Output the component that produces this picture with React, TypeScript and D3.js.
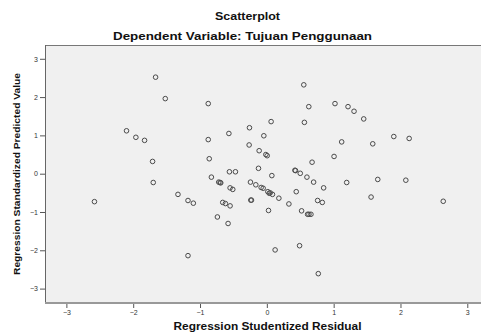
import { useRef, useEffect } from "react";
import * as d3 from "d3";

// Regression studentized residual (x) vs standardized predicted value (y)
const residuals = [
  -1.665, -1.52, -2.1, -1.96, -1.83, -1.71, -1.7, -2.58, -1.33, -1.18, -1.1, -1.18,
  0.553, -0.877, 0.628, 0.562, 0.064, -0.26, -0.568, -0.045, -0.877, -0.265, -0.115,
  -0.015, 0.005, -0.862, 0.677, -0.125, -0.56, -0.47, -0.83, 0.075, 0.42, 0.43, 0.5,
  0.6, 0.7, 0.85, -0.72, -0.69, -0.7, -0.55, -0.51, -0.245, -0.165, -0.085, -0.055,
  0.015, 0.05, 0.084, 0.18, -0.24, -0.23, 0.025, 0.33, 0.44, 0.52, 0.61, 0.63, 0.66,
  0.76, 0.83, -0.66, -0.62, -0.55, -0.74, -0.58, 0.124, 0.49, 0.77, 1.02, 1.215, 1.305,
  1.45, 1.12, 1.585, 1.9, 2.13, 1.006, 1.195, 1.66, 2.08, 1.56, 2.64, 0.035,
];
const predicted = [
  2.52, 1.96, 1.12, 0.95, 0.87, 0.32, -0.23, -0.73, -0.54, -0.7, -0.77, -2.14,
  2.32, 1.83, 1.75, 1.34, 1.36, 1.2, 1.05, 0.99, 0.89, 0.75, 0.6,
  0.5, 0.47, 0.39, 0.3, 0.14, 0.05, 0.05, -0.09, -0.05, 0.09, 0.08, 0.01,
  -0.09, -0.22, -0.37, -0.22, -0.24, -0.23, -0.37, -0.41, -0.22, -0.29, -0.36, -0.38,
  -0.47, -0.5, -0.54, -0.64, -0.69, -0.69, -0.96, -0.79, -0.47, -0.97, -1.06, -1.06, -1.06,
  -0.7, -0.75, -0.75, -0.78, -0.84, -1.13, -1.3, -1.99, -1.88, -2.61, 1.83, 1.75, 1.63,
  1.43, 0.83, 0.78, 0.97, 0.92, 0.45, -0.23, -0.15, -0.17, -0.61, -0.72, -0.51,
];
const xTicks = [-3, -2, -1, 0, 1, 2, 3];
const yTicks = [-3, -2, -1, 0, 1, 2, 3];

const title = "Scatterplot";
const subtitle = "Dependent Variable: Tujuan Penggunaan";
const xLabel = "Regression Studentized Residual";
const yLabel = "Regression Standardized Predicted Value";

const App = () => {
  const svgRef = useRef(null);

  useEffect(() => {
    const svg = d3.select(svgRef.current);
    svg.selectAll("*").remove();
    const width = 481;
    const height = 332;
    const plot = { left: 45, top: 45, right: 484, bottom: 302 };
    const font = "'Liberation Sans', Arial, sans-serif";

    const x = d3.scaleLinear().domain([-3.32, 3.25]).range([plot.left, plot.right]);
    const y = d3.scaleLinear().domain([-3.35, 3.36]).range([plot.bottom, plot.top]);

    svg.attr("width", width).attr("height", height).style("font-family", font);

    // plot background
    svg
      .append("rect")
      .attr("x", plot.left)
      .attr("y", plot.top)
      .attr("width", plot.right - plot.left)
      .attr("height", plot.bottom - plot.top)
      .attr("fill", "#f0f0f0");

    // frame lines
    svg
      .append("line")
      .attr("x1", plot.left)
      .attr("x2", plot.right)
      .attr("y1", plot.top + 0.5)
      .attr("y2", plot.top + 0.5)
      .attr("stroke", "#777");
    svg
      .append("line")
      .attr("x1", plot.left + 0.5)
      .attr("x2", plot.left + 0.5)
      .attr("y1", plot.top)
      .attr("y2", plot.bottom)
      .attr("stroke", "#666");
    svg
      .append("line")
      .attr("x1", plot.left)
      .attr("x2", plot.right)
      .attr("y1", plot.bottom + 1)
      .attr("y2", plot.bottom + 1)
      .attr("stroke", "#999")
      .attr("stroke-width", 2);

    // Y axis
    const yAxis = svg
      .append("g")
      .attr("transform", `translate(${plot.left},0)`)
      .call(d3.axisLeft(y).tickValues(yTicks).tickSize(5).tickPadding(2).tickFormat(d3.format("d")));
    yAxis.select(".domain").remove();
    yAxis.selectAll(".tick line").attr("stroke", "#555");
    yAxis
      .selectAll(".tick text")
      .attr("fill", "#333")
      .style("font-size", "7px")
      .style("font-family", font);

    // X axis
    const xAxis = svg
      .append("g")
      .attr("transform", `translate(0,${plot.bottom + 2})`)
      .call(d3.axisBottom(x).tickValues(xTicks).tickSize(4).tickPadding(2).tickFormat(d3.format("d")));
    xAxis.select(".domain").remove();
    xAxis.selectAll(".tick line").attr("stroke", "#555");
    xAxis
      .selectAll(".tick text")
      .attr("fill", "#333")
      .style("font-size", "7px")
      .style("font-family", font);

    // points
    svg
      .append("g")
      .selectAll("circle")
      .data(residuals.map((r, i) => ({ r, p: predicted[i] })))
      .enter()
      .append("circle")
      .attr("cx", (d) => x(d.r))
      .attr("cy", (d) => y(d.p))
      .attr("r", 2.3)
      .attr("fill", "none")
      .attr("stroke", "#4a4a4a")
      .attr("stroke-width", 1);

    // titles and axis labels, stretched to the widths in the original
    const label = (txt, tx, ty, size, len, rot = 0) =>
      svg
        .append("text")
        .attr("transform", `translate(${tx},${ty}) rotate(${rot})`)
        .attr("text-anchor", "middle")
        .attr("font-weight", "bold")
        .attr("font-size", size)
        .attr("textLength", len)
        .attr("lengthAdjust", "spacingAndGlyphs")
        .attr("fill", "#111")
        .text(txt);

    label(title, 247.5, 19.5, 10.5, 65);
    label(subtitle, 242.5, 39.5, 10.5, 259);
    label(xLabel, 267.5, 330, 10, 188);
    label(yLabel, 20, 174, 9.5, 202, -90);
  }, []);

  return (
    <div style={{ position: "absolute", left: 0, top: 0, background: "#fff" }}>
      <svg ref={svgRef} width="481" height="332" style={{ display: "block" }}></svg>
    </div>
  );
};

export default App;
